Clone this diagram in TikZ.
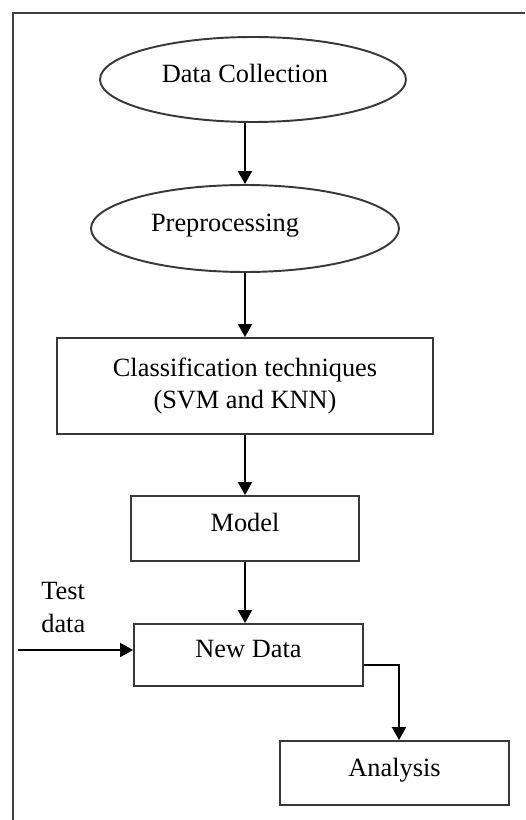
\documentclass[tikz,border=0pt]{standalone}
\usepackage{fontspec}
\setmainfont{Liberation Serif}
\usetikzlibrary{shapes.geometric,arrows.meta}

\begin{document}
\begin{tikzpicture}[x=0.02cm, y=-0.02cm,
  every node/.style={font=\fontsize{15}{18.5}\selectfont},
  oval/.style={ellipse, draw=black!78, line width=1.1pt, inner sep=0pt, text depth=7pt},
  stage/.style={rectangle, draw=black!78, line width=1.1pt, inner sep=0pt},
  flow/.style={-{Triangle[width=0.28cm,length=0.26cm]}, line width=1.15pt}]
  \useasboundingbox (0,0) rectangle (525,820);
  \draw[black!75, line width=1.2pt] (13,820) -- (13,13) -- (525,13);

  \node[oval, minimum width=6.12cm, minimum height=1.7cm] (collect) at (253,79.5) {Data Collection\hspace*{0.32cm}};
  \node[oval, minimum width=6.16cm, minimum height=1.74cm] (prep) at (245,228.5) {Preprocessing\hspace*{0.8cm}};
  \node[stage, minimum width=7.52cm, minimum height=1.92cm, align=center] (classif) at (245,386) {Classification techniques\\(SVM and KNN)};
  \node[stage, minimum width=4.56cm, minimum height=1.3cm, text depth=7pt] (model) at (245,528.5) {Model};
  \node[stage, minimum width=4.58cm, minimum height=1.24cm, text depth=7pt] (newdata) at (248.5,655) {New Data};
  \node[stage, minimum width=4.58cm, minimum height=1.28cm, text depth=7pt] (analysis) at (394.5,773) {Analysis};
  \node[anchor=west, inner sep=0pt, align=left] (testlbl) at (41,607.5) {Test\\data};
  \coordinate (testin) at (18,650);

  \draw[flow] (prep.north |- collect.south) -- (prep.north);
  \draw[flow] (prep.south) -- (classif.north);
  \draw[flow] (classif.south) -- (model.north);
  \draw[flow] (model.south) -- (model.south |- newdata.north);
  \draw[flow] (testin) -- (testin -| newdata.west);
  \draw[flow] ([yshift=-0.2cm]newdata.east) -| ([xshift=0.09cm]analysis.north);
\end{tikzpicture}
\end{document}
